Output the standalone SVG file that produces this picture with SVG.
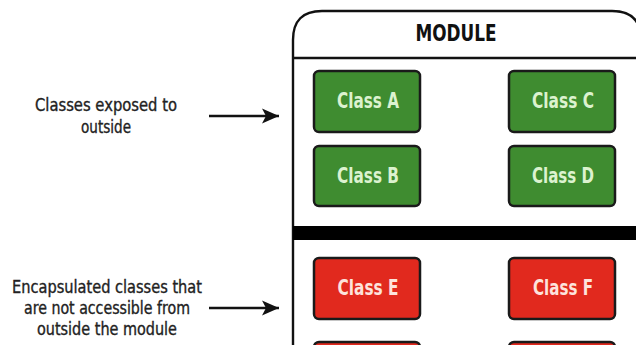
<svg xmlns="http://www.w3.org/2000/svg" width="636" height="345" viewBox="0 0 636 345">
<style>
.lbl{font-family:"Liberation Sans Narrow","DejaVu Sans Condensed","Liberation Sans",sans-serif;font-size:18px;fill:#222;stroke:#222;stroke-width:0.35;text-anchor:middle}
.cls rect{stroke:#1a1a1a;stroke-width:2.5}
.green rect{fill:#3f8c30}
.red rect{fill:#e1291e}
.cls text{font-family:"Liberation Sans Narrow","DejaVu Sans Condensed","Liberation Sans",sans-serif;font-weight:bold;font-size:21px;text-anchor:middle}
.green text{fill:#dcf2cf}
.red text{fill:#fde3dc}
.edge{stroke:#111;stroke-width:2.6;fill:none}
</style>
<defs>
<marker id="ah" markerWidth="18" markerHeight="16" refX="17" refY="8" orient="auto" markerUnits="userSpaceOnUse" viewBox="0 0 18 16">
<path d="M0,0.5 L17,8 L0,15.5 L4,8 Z" fill="#111"/>
</marker>
</defs>
<rect width="636" height="345" fill="#fff"/>
<g id="module">
<path d="M293,345 L293,40 Q293,11 322,11 L612,11 Q641,11 641,40 L641,345" fill="#fff" stroke="#111" stroke-width="2.4"/>
<line x1="293" y1="58" x2="636" y2="58" stroke="#111" stroke-width="2.4"/>
<rect x="293" y="226" width="343" height="14" fill="#000"/>
<text x="456" y="41" font-family="Liberation Sans Narrow,DejaVu Sans Condensed,Liberation Sans,sans-serif" font-weight="bold" font-size="23" text-anchor="middle" fill="#111" textLength="81" lengthAdjust="spacingAndGlyphs">MODULE</text>
</g>
<g id="label-exposed">
<text class="lbl" x="106" y="111" textLength="142" lengthAdjust="spacingAndGlyphs">Classes exposed to</text>
<text class="lbl" x="106" y="133" textLength="50" lengthAdjust="spacingAndGlyphs">outside</text>
</g>
<g id="label-encapsulated">
<text class="lbl" x="107" y="293" textLength="190" lengthAdjust="spacingAndGlyphs">Encapsulated classes that</text>
<text class="lbl" x="107" y="314" textLength="166" lengthAdjust="spacingAndGlyphs">are not accessible from</text>
<text class="lbl" x="107" y="335" textLength="140" lengthAdjust="spacingAndGlyphs">outside the module</text>
</g>
<g id="classA" class="cls green"><rect x="314" y="71" width="106" height="61" rx="5"/><text x="368" y="108" textLength="62" lengthAdjust="spacingAndGlyphs">Class A</text></g>
<g id="classB" class="cls green"><rect x="314" y="146" width="106" height="60" rx="5"/><text x="368" y="183" textLength="62" lengthAdjust="spacingAndGlyphs">Class B</text></g>
<g id="classC" class="cls green"><rect x="509" y="71" width="106" height="61" rx="5"/><text x="563" y="108" textLength="62" lengthAdjust="spacingAndGlyphs">Class C</text></g>
<g id="classD" class="cls green"><rect x="509" y="146" width="106" height="60" rx="5"/><text x="563" y="183" textLength="62" lengthAdjust="spacingAndGlyphs">Class D</text></g>
<g id="classE" class="cls red"><rect x="314" y="258" width="106" height="61" rx="5"/><text x="368" y="295" textLength="61" lengthAdjust="spacingAndGlyphs">Class E</text></g>
<g id="classF" class="cls red"><rect x="509" y="258" width="106" height="61" rx="5"/><text x="563" y="295" textLength="60" lengthAdjust="spacingAndGlyphs">Class F</text></g>
<g id="classG" class="cls red"><rect x="314" y="342" width="106" height="61" rx="5"/></g>
<g id="classH" class="cls red"><rect x="509" y="342" width="106" height="61" rx="5"/></g>
<g id="connectors">
<line class="edge" x1="209" y1="116" x2="279" y2="116" marker-end="url(#ah)"/>
<line class="edge" x1="209" y1="308" x2="279" y2="308" marker-end="url(#ah)"/>
</g>
</svg>
